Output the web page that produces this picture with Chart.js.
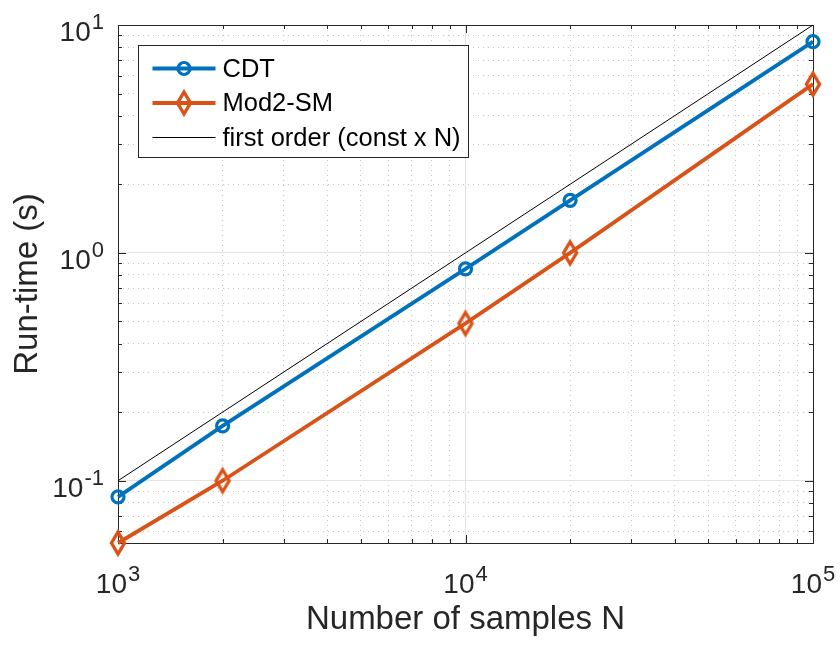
<!DOCTYPE html>
<html>
<head>
<meta charset="utf-8">
<script src="https://cdn.jsdelivr.net/npm/chart.js@4.4.1/dist/chart.umd.min.js"></script>
<style>
  html, body { margin: 0; padding: 0; background: #fff; }
  #wrap { width: 840px; height: 650px; }
</style>
</head>
<body>
<div id="wrap"><canvas id="runtime-chart" width="840" height="650"></canvas></div>
<script>
// Values
const sampleSizes = [1000, 2000, 10000, 20000, 100000];
const cdtTimes = [0.085, 0.174, 0.85, 1.7, 8.45];
const mod2Times = [0.0533, 0.1, 0.49, 1.0, 5.5];
const firstOrderN = [1000, 100000];
const firstOrderTimes = [0.1, 10];

// Axis ticks (decades get a label, the rest are minor)
const xTicks = [1000, 2000, 3000, 4000, 5000, 6000, 7000, 8000, 9000,
                10000, 20000, 30000, 40000, 50000, 60000, 70000, 80000, 90000, 100000];
const yTicks = [0.06, 0.07, 0.08, 0.09, 0.1, 0.2, 0.3, 0.4, 0.5, 0.6, 0.7, 0.8, 0.9,
                1, 2, 3, 4, 5, 6, 7, 8, 9, 10];
const xLabelValues = [1000, 10000, 100000];
const xLabelExponents = ['3', '4', '5'];
const yLabelValues = [0.1, 1, 10];
const yLabelExponents = ['-1', '0', '1'];

const FONT = 'Liberation Sans, Arial, Helvetica, sans-serif';
const AXIS_COLOR = '#262626';
const BLUE = '#0072BD';
const ORANGE = '#D95319';

Chart.defaults.font.family = FONT;
Chart.defaults.color = AXIS_COLOR;

// MATLAB style diamond: taller than wide, no fill
function makeDiamond(color) {
    const c = document.createElement('canvas');
    c.width = 22;
    c.height = 32;
    const g = c.getContext('2d');
    g.strokeStyle = color;
    g.lineWidth = 3.4;
    g.beginPath();
    g.moveTo(11, 5);
    g.lineTo(17.5, 16);
    g.lineTo(11, 27);
    g.lineTo(4.5, 16);
    g.closePath();
    g.stroke();
    return c;
}
const diamond = makeDiamond(ORANGE);

function isDecade(v) {
    const l = Math.log10(v);
    return Math.abs(l - Math.round(l)) < 1e-9;
}

// "10" with a raised exponent, like the TeX labels
function drawPowerLabel(ctx, exp, x, baseline, align) {
    ctx.font = '28px ' + FONT;
    const wBase = ctx.measureText('10').width;
    ctx.font = '22px ' + FONT;
    const wExp = ctx.measureText(exp).width;
    const total = wBase + 1 + wExp;
    let x0 = x - total / 2;
    if (align === 'right') x0 = x - total;
    ctx.textAlign = 'left';
    ctx.textBaseline = 'alphabetic';
    ctx.font = '28px ' + FONT;
    ctx.fillText('10', x0, baseline);
    ctx.font = '22px ' + FONT;
    ctx.fillText(exp, x0 + wBase + 1, baseline - 12);
}

// box with inward tick marks on all four sides, plus the tick labels
const axesFrame = {
    id: 'axesFrame',
    beforeDatasetsDraw(chart) {
        const { ctx, chartArea: a, scales: { x, y } } = chart;
        ctx.save();
        ctx.strokeStyle = AXIS_COLOR;
        ctx.lineWidth = 1;
        ctx.beginPath();
        xTicks.forEach(v => {
            const px = Math.round(x.getPixelForValue(v)) + 0.5;
            const len = isDecade(v) ? 8 : 4;
            ctx.moveTo(px, a.bottom);
            ctx.lineTo(px, a.bottom - len);
            ctx.moveTo(px, a.top);
            ctx.lineTo(px, a.top + len);
        });
        yTicks.forEach(v => {
            const py = Math.round(y.getPixelForValue(v)) + 0.5;
            const len = isDecade(v) ? 8 : 4;
            ctx.moveTo(a.left, py);
            ctx.lineTo(a.left + len, py);
            ctx.moveTo(a.right, py);
            ctx.lineTo(a.right - len, py);
        });
        ctx.stroke();
        ctx.strokeRect(Math.round(a.left) + 0.5, Math.round(a.top) + 0.5,
                       Math.round(a.right - a.left), Math.round(a.bottom - a.top));

        ctx.fillStyle = AXIS_COLOR;
        xLabelValues.forEach((v, i) => {
            drawPowerLabel(ctx, xLabelExponents[i], x.getPixelForValue(v), a.bottom + 50, 'center');
        });
        yLabelValues.forEach((v, i) => {
            drawPowerLabel(ctx, yLabelExponents[i], a.left - 14, y.getPixelForValue(v) + 16, 'right');
        });
        ctx.restore();
    }
};

// legend drawn inside the axes, top left
const insideLegend = {
    id: 'insideLegend',
    afterDatasetsDraw(chart) {
        const { ctx, chartArea: a } = chart;
        const bx = Math.round(a.left) + 20.5;
        const by = Math.round(a.top) + 20.5;
        const bw = 330;
        const bh = 112;
        ctx.save();
        ctx.fillStyle = '#fff';
        ctx.fillRect(bx, by, bw, bh);
        ctx.strokeStyle = AXIS_COLOR;
        ctx.lineWidth = 1;
        ctx.strokeRect(bx, by, bw, bh);

        ctx.font = '25.5px ' + FONT;
        ctx.textBaseline = 'middle';
        ctx.textAlign = 'left';
        chart.data.datasets.forEach((ds, i) => {
            const ry = by + 23 + i * 34.5;
            const x0 = bx + 14;
            const x1 = bx + 77;
            ctx.strokeStyle = ds.borderColor;
            ctx.lineWidth = ds.borderWidth;
            ctx.beginPath();
            ctx.moveTo(x0, ry);
            ctx.lineTo(x1, ry);
            ctx.stroke();
            const mx = (x0 + x1) / 2;
            if (ds.pointStyle === 'circle' && ds.pointRadius > 0) {
                ctx.lineWidth = ds.pointBorderWidth;
                ctx.beginPath();
                ctx.arc(mx, ry, ds.pointRadius, 0, Math.PI * 2);
                ctx.stroke();
            } else if (ds.pointStyle instanceof HTMLCanvasElement) {
                ctx.drawImage(ds.pointStyle, mx - ds.pointStyle.width / 2, ry - ds.pointStyle.height / 2);
            }
            ctx.fillStyle = '#000';
            ctx.fillText(ds.label, bx + 84, ry + 1);
        });
        ctx.restore();
    }
};

const gridColor = (ctx) => {
    if (!ctx.tick) return 'rgba(0,0,0,0)';
    return isDecade(ctx.tick.value) ? '#e3e3e3' : '#c8c8c8';
};
const gridDash = (ctx) => {
    if (!ctx.tick) return [];
    return isDecade(ctx.tick.value) ? [] : [1, 4];
};

const ctx = document.getElementById('runtime-chart').getContext('2d');
const runtimeChart = new Chart(ctx, {
    type: 'scatter',
    data: {
        datasets: [
            {
                label: 'CDT',
                data: sampleSizes.map((n, i) => ({ x: n, y: cdtTimes[i] })),
                showLine: true,
                borderColor: BLUE,
                borderWidth: 3.8,
                pointStyle: 'circle',
                pointRadius: 6,
                pointBorderWidth: 3.2,
                pointBorderColor: BLUE,
                pointBackgroundColor: 'rgba(0,0,0,0)',
                clip: false,
                order: 2
            },
            {
                label: 'Mod2-SM',
                data: sampleSizes.map((n, i) => ({ x: n, y: mod2Times[i] })),
                showLine: true,
                borderColor: ORANGE,
                borderWidth: 3.8,
                pointStyle: diamond,
                pointRadius: 10,
                clip: false,
                order: 1
            },
            {
                label: 'first order (const x N)',
                data: firstOrderN.map((n, i) => ({ x: n, y: firstOrderTimes[i] })),
                showLine: true,
                borderColor: '#000',
                borderWidth: 1,
                pointRadius: 0,
                clip: false,
                order: 0
            }
        ]
    },
    options: {
        responsive: false,
        animation: false,
        events: [],
        layout: { padding: { left: 0, top: 25, right: 27, bottom: 0 } },
        plugins: {
            legend: { display: false },
            tooltip: { enabled: false }
        },
        scales: {
            x: {
                type: 'logarithmic',
                position: 'bottom',
                min: 1000,
                max: 100000,
                afterBuildTicks: (scale) => { scale.ticks = xTicks.map(v => ({ value: v })); },
                afterFit: (scale) => {
                    scale.height = 107;
                    scale.paddingLeft = 0;
                    scale.paddingRight = 0;
                },
                ticks: { display: false, autoSkip: false },
                grid: { color: gridColor, lineWidth: 1, drawTicks: false },
                border: { display: false, dash: gridDash },
                title: {
                    display: true,
                    text: 'Number of samples N',
                    color: AXIS_COLOR,
                    font: { size: 33 },
                    padding: { top: 0, bottom: 10 }
                }
            },
            y: {
                type: 'logarithmic',
                position: 'left',
                min: 0.0533,
                max: 10,
                afterBuildTicks: (scale) => { scale.ticks = yTicks.map(v => ({ value: v })); },
                afterFit: (scale) => {
                    scale.width = 118;
                    scale.paddingTop = 0;
                    scale.paddingBottom = 0;
                },
                ticks: { display: false, autoSkip: false },
                grid: { color: gridColor, lineWidth: 1, drawTicks: false },
                border: { display: false, dash: gridDash },
                title: {
                    display: true,
                    text: 'Run-time (s)',
                    color: AXIS_COLOR,
                    font: { size: 33 },
                    padding: { top: 8, bottom: 0 }
                }
            }
        }
    },
    plugins: [axesFrame, insideLegend]
});
</script>
</body>
</html>
